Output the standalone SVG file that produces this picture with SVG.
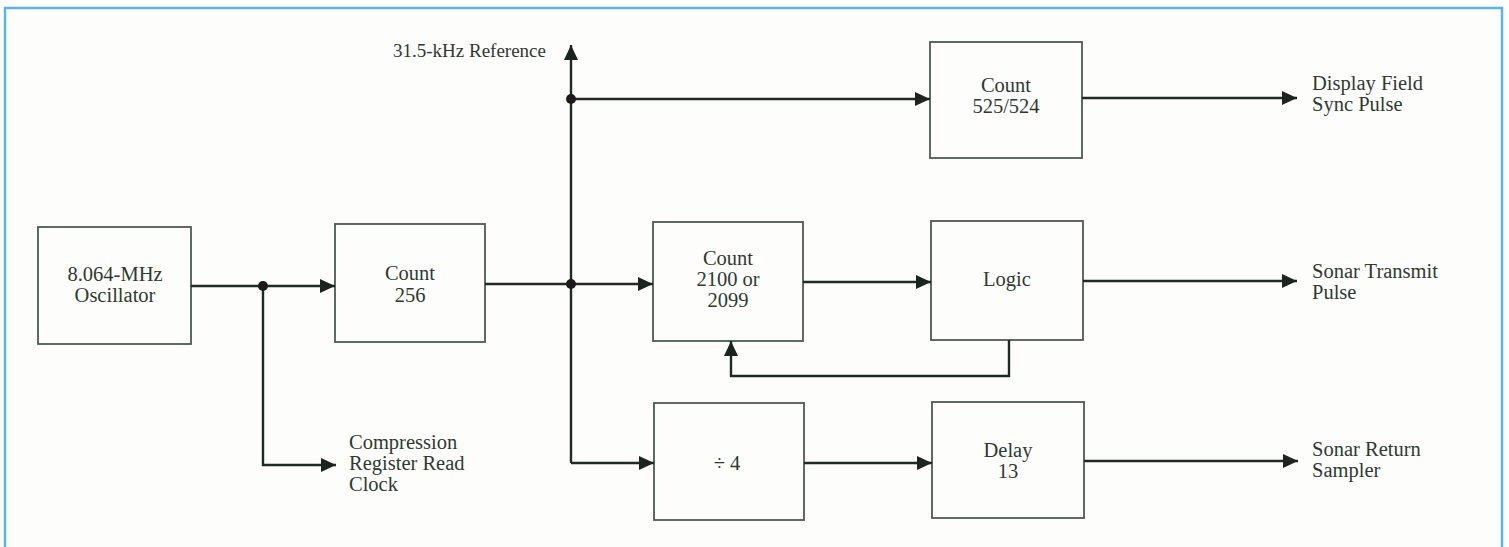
<svg xmlns="http://www.w3.org/2000/svg" width="1509" height="547" viewBox="0 0 1509 547">
  <style>
    .frame { fill: none; stroke: #5bb5e3; stroke-width: 2.5; }
    .box { fill: none; stroke: #4c5b50; stroke-width: 1.8; }
    .wire { fill: none; stroke: #1f2a22; stroke-width: 2.4; }
    .dot { fill: #1c1a1c; }
    text { font-family: "Liberation Serif", "Times New Roman", serif; font-size: 20.5px; fill: #2e3a31; }
    .c { text-anchor: middle; }
    .ref { font-size: 19px; }
  </style>
  <defs>
    <marker id="arrow" markerUnits="userSpaceOnUse" markerWidth="16" markerHeight="14" refX="15" refY="7" orient="auto">
      <path d="M0,0 L15,7 L0,14 Z" fill="#1c241e"/>
    </marker>
  </defs>

  <rect x="0" y="0" width="1509" height="547" fill="#fdfdfb"/>
  <!-- page frame, open at the bottom -->
  <path class="frame" d="M5,560 L5,8 L1502,8 L1502,560"/>

  <!-- blocks -->
  <g id="oscillator">
    <rect class="box" x="38" y="227" width="153" height="117"/>
    <text class="c" x="115" y="281">8.064-MHz</text>
    <text class="c" x="115" y="302">Oscillator</text>
  </g>
  <g id="count256">
    <rect class="box" x="335" y="224" width="150" height="118"/>
    <text class="c" x="410" y="280">Count</text>
    <text class="c" x="410" y="302">256</text>
  </g>
  <g id="count525">
    <rect class="box" x="930" y="42" width="152" height="116"/>
    <text class="c" x="1006" y="92">Count</text>
    <text class="c" x="1006" y="113">525/524</text>
  </g>
  <g id="count2100">
    <rect class="box" x="653" y="222" width="150" height="119"/>
    <text class="c" x="728" y="265">Count</text>
    <text class="c" x="728" y="286">2100 or</text>
    <text class="c" x="728" y="307">2099</text>
  </g>
  <g id="logic">
    <rect class="box" x="931" y="221" width="152" height="119"/>
    <text class="c" x="1007" y="286">Logic</text>
  </g>
  <g id="divide4">
    <rect class="box" x="654" y="403" width="150" height="117"/>
    <text class="c" x="727" y="470">÷ 4</text>
  </g>
  <g id="delay13">
    <rect class="box" x="932" y="402" width="152" height="116"/>
    <text class="c" x="1008" y="457">Delay</text>
    <text class="c" x="1008" y="478">13</text>
  </g>

  <!-- signal labels -->
  <g id="labels">
    <text class="ref" x="393" y="57">31.5-kHz Reference</text>
    <text x="349" y="449">Compression</text>
    <text x="349" y="470">Register Read</text>
    <text x="349" y="491">Clock</text>
    <text x="1312" y="90">Display Field</text>
    <text x="1312" y="111">Sync Pulse</text>
    <text x="1312" y="278">Sonar Transmit</text>
    <text x="1312" y="299">Pulse</text>
    <text x="1312" y="456">Sonar Return</text>
    <text x="1312" y="477">Sampler</text>
  </g>

  <!-- connectors -->
  <g id="connectors">
    <path class="wire" d="M191,286 L335,286" marker-end="url(#arrow)"/>
    <path class="wire" d="M263,286 L263,465 L336,465" marker-end="url(#arrow)"/>
    <path class="wire" d="M485,284 L653,284" marker-end="url(#arrow)"/>
    <path class="wire" d="M571,463 L571,45" marker-end="url(#arrow)"/>
    <path class="wire" d="M571,463 L654,463" marker-end="url(#arrow)"/>
    <path class="wire" d="M571,99 L930,99" marker-end="url(#arrow)"/>
    <path class="wire" d="M803,282 L931,282" marker-end="url(#arrow)"/>
    <path class="wire" d="M1009,340 L1009,376 L731,376 L731,341" marker-end="url(#arrow)"/>
    <path class="wire" d="M804,463 L932,463" marker-end="url(#arrow)"/>
    <path class="wire" d="M1082,98 L1297,98" marker-end="url(#arrow)"/>
    <path class="wire" d="M1083,281 L1297,281" marker-end="url(#arrow)"/>
    <path class="wire" d="M1084,461 L1298,461" marker-end="url(#arrow)"/>
    <circle class="dot" cx="263" cy="286" r="5"/>
    <circle class="dot" cx="571" cy="284" r="5"/>
    <circle class="dot" cx="571" cy="99" r="5"/>
  </g>
</svg>
